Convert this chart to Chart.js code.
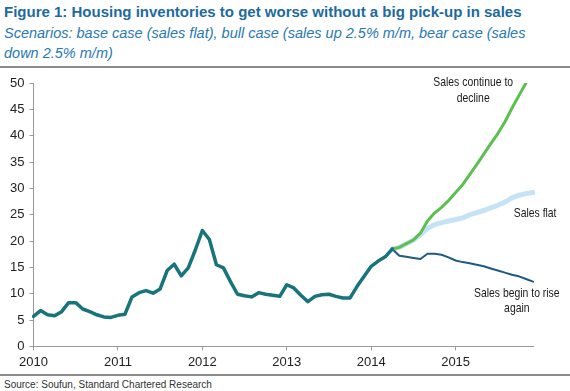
<!DOCTYPE html>
<html>
<head>
<meta charset="utf-8">
<script src="https://cdn.jsdelivr.net/npm/chart.js@4.4.1/dist/chart.umd.min.js"></script>
<style>
  html, body { margin: 0; padding: 0; background: #fff; }
  #wrap { position: relative; width: 570px; height: 391px; overflow: hidden; font-family: 'Liberation Sans', Arial, sans-serif; }
  #title { position: absolute; left: 4px; top: 3px; font-weight: bold; font-size: 15px; color: #1d6a9e; white-space: nowrap; }
  #sub { position: absolute; left: 4px; top: 23px; font-style: italic; font-size: 14.5px; line-height: 20px; color: #2a78b2; white-space: nowrap; }
  .rule { position: absolute; left: 0; width: 570px; height: 2px; background: #8c8c8c; }
  #box { position: absolute; left: 0; top: 70px; width: 570px; height: 302px; }
  #src { position: absolute; left: 4px; top: 379px; font-size: 10px; color: #333; }
</style>
</head>
<body>
<div id="wrap">
  <div id="title">Figure 1: Housing inventories to get worse without a big pick-up in sales</div>
  <div id="sub">Scenarios: base case (sales flat), bull case (sales up 2.5% m/m, bear case (sales<br>down 2.5% m/m)</div>
  <div class="rule" style="top:66px"></div>
  <div id="box"><canvas id="chart"></canvas></div>
  <div class="rule" style="top:374px"></div>
  <div id="src">Source: Soufun, Standard Chartered Research</div>
</div>
<script>
// 月度类目：2010-01 .. 2015-12
const years = ['2010', '2011', '2012', '2013', '2014', '2015'];
const months = [];
years.forEach((y) => {
  for (let m = 1; m <= 12; m++) months.push(y + '-' + String(m).padStart(2, '0'));
});

// 历史库存（2010-01 .. 2014-04）
const history = [
  5.7, 6.8, 6.0, 5.8, 6.6, 8.3, 8.3, 7.1, 6.6, 6.0, 5.6, 5.5,
  5.9, 6.1, 9.4, 10.2, 10.6, 10.1, 10.9, 14.4, 15.6, 13.4, 14.9, 18.3,
  22.0, 20.3, 15.5, 14.9, 12.3, 9.9, 9.6, 9.4, 10.2, 9.9, 9.7, 9.5,
  11.7, 11.1, 9.7, 8.5, 9.5, 9.8, 9.9, 9.5, 9.2, 9.2, 11.4, 13.3,
  15.2, 16.2, 17.0, 18.5,
];

// 情景预测（从 2014-04 开始）
const salesDecline = [
  18.5, 18.8, 19.5, 20.2, 21.5, 23.8, 25.3, 26.4, 27.7, 29.2,
  30.7, 32.6, 34.5, 36.5, 38.5, 40.4, 42.6, 45.2, 47.6, 50.0,
];
const salesFlat = [
  18.5, 18.8, 19.5, 20.2, 21.2, 22.4, 23.1, 23.5, 23.8, 24.1,
  24.4, 25.0, 25.4, 25.8, 26.3, 26.8, 27.4, 28.2, 28.7, 29.0, 29.2,
];
const salesRise = [
  18.5, 17.2, 17.0, 16.8, 16.6, 17.6, 17.6, 17.4, 16.9, 16.3,
  16.0, 15.8, 15.5, 15.2, 14.8, 14.4, 14.0, 13.6, 13.3, 12.8, 12.3,
];

const startIdx = history.length - 1;
const pad = (arr) => Array(startIdx).fill(null).concat(arr);

// 文字标注（数据坐标）
const notes = [
  { lines: ['Sales continue to', 'decline'], x: 62.5, y: 50.1 },
  { lines: ['Sales flat'], x: 71.3, y: 25.2 },
  { lines: ['Sales begin to rise', 'again'], x: 68.7, y: 10.1 },
];

const FONT = "'Liberation Sans Narrow', 'Arial Narrow', 'Liberation Sans', sans-serif";

// 窄体字模拟：横向压缩
const notePlugin = {
  id: 'notes',
  afterDatasetsDraw(chart) {
    const { ctx, scales } = chart;
    ctx.save();
    ctx.font = '13px ' + FONT;
    ctx.fillStyle = '#1a1a1a';
    ctx.textAlign = 'center';
    ctx.textBaseline = 'middle';
    notes.forEach((n) => {
      const px = scales.x.getPixelForValue(n.x);
      const py = scales.y.getPixelForValue(n.y);
      ctx.save();
      ctx.translate(px, py);
      ctx.scale(0.8, 1);
      n.lines.forEach((t, i) => ctx.fillText(t, 0, i * 15.5));
      ctx.restore();
    });
    ctx.restore();
  },
};

const axisColor = '#9a9a9a';

new Chart(document.getElementById('chart'), {
  type: 'line',
  data: {
    labels: months,
    datasets: [
      { label: 'History', data: history, borderColor: '#17747a', borderWidth: 3.5 },
      { label: 'Sales continue to decline', data: pad(salesDecline), borderColor: '#5dbf50', borderWidth: 3 },
      { label: 'Sales begin to rise again', data: pad(salesRise), borderColor: '#1d5b86', borderWidth: 2 },
      { label: 'Sales flat', data: pad(salesFlat), borderColor: '#c4e3f6', borderWidth: 5 },
    ].map((d) => ({ ...d, pointRadius: 0, tension: 0, fill: false, spanGaps: false, borderJoinStyle: 'round', borderCapStyle: 'round' })),
  },
  options: {
    responsive: true,
    maintainAspectRatio: false,
    animation: false,
    layout: { padding: { top: 13, right: 37, left: 0, bottom: 0 } },
    plugins: { legend: { display: false }, tooltip: { enabled: false } },
    scales: {
      x: {
        type: 'category',
        offset: false,
        grid: { drawOnChartArea: false, drawTicks: true, tickLength: 4, color: axisColor },
        border: { color: axisColor, width: 1 },
        ticks: {
          autoSkip: false,
          maxRotation: 0,
          padding: 4,
          color: '#222',
          font: { family: FONT, size: 13 },
          callback: (v, i) => (i % 12 === 0 ? months[i].slice(0, 4) : null),
        },
        afterFit: (s) => { s.height = 25.6; },
      },
      y: {
        min: 0,
        max: 50,
        grid: { drawOnChartArea: false, drawTicks: true, tickLength: 4, color: axisColor },
        border: { color: axisColor, width: 1 },
        ticks: { stepSize: 5, padding: 5, color: '#222', font: { family: FONT, size: 13 } },
        afterFit: (s) => { s.width = 33.5; },
      },
    },
  },
  plugins: [notePlugin],
});
</script>
</body>
</html>
